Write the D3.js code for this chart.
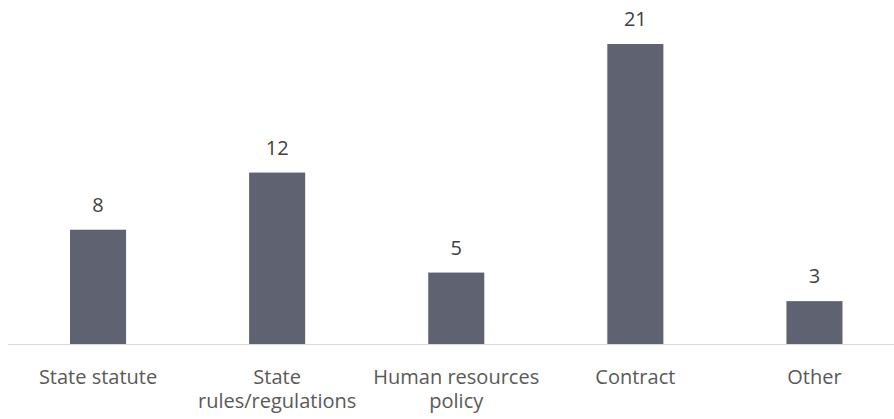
<!DOCTYPE html>
<html>
<head>
<meta charset="utf-8">
<script src="https://cdn.jsdelivr.net/npm/d3@7"></script>
<style>
  body { margin: 0; background: #fff; }
  text { font-family: "Open Sans", "Noto Sans", sans-serif; }
</style>
</head>
<body>
<svg width="894" height="419"></svg>
<script>
// chart data
var categories = ["State statute", "State rules/regulations", "Human resources policy", "Contract", "Other"];
var labelLines = [["State statute"], ["State", "rules/regulations"], ["Human resources", "policy"], ["Contract"], ["Other"]];
var values = [8, 12, 5, 21, 3];

var svg = d3.select("svg"),
    width = +svg.attr("width"),
    height = +svg.attr("height");

var baseY = 344;

var x = d3.scaleBand()
    .domain(categories)
    .range([8.5, 904])
    .paddingInner(0.687)
    .paddingOuter(0.3435);

var y = d3.scaleLinear()
    .domain([0, 21])
    .range([baseY, 44]);

// bars
svg.selectAll("rect.bar")
    .data(values)
  .enter().append("rect")
    .attr("class", "bar")
    .attr("x", function(d, i) { return x(categories[i]); })
    .attr("y", function(d) { return y(d); })
    .attr("width", x.bandwidth())
    .attr("height", function(d) { return baseY - y(d); })
    .attr("fill", "#5f6270");

// value labels
svg.selectAll("text.val")
    .data(values)
  .enter().append("text")
    .attr("class", "val")
    .attr("x", function(d, i) { return x(categories[i]) + x.bandwidth() / 2; })
    .attr("y", function(d) { return y(d) - 18; })
    .attr("text-anchor", "middle")
    .attr("font-size", "20px")
    .attr("fill", "#404040")
    .text(function(d) { return d; });

// axis line
svg.append("line")
    .attr("x1", 8).attr("x2", width)
    .attr("y1", baseY + 0.5).attr("y2", baseY + 0.5)
    .attr("stroke", "#d9d9d9")
    .attr("stroke-width", 1.2);

// category labels, one text per line
svg.selectAll("g.cat")
    .data(categories)
  .enter().append("g")
    .attr("class", "cat")
    .each(function(d, i) {
      var g = d3.select(this);
      labelLines[i].forEach(function(line, k) {
        g.append("text")
          .attr("x", x(d) + x.bandwidth() / 2)
          .attr("y", baseY + 40 + k * 23.5)
          .attr("text-anchor", "middle")
          .attr("font-size", "20px")
          .attr("fill", "#595959")
          .text(line);
      });
    });
</script>
</body>
</html>
